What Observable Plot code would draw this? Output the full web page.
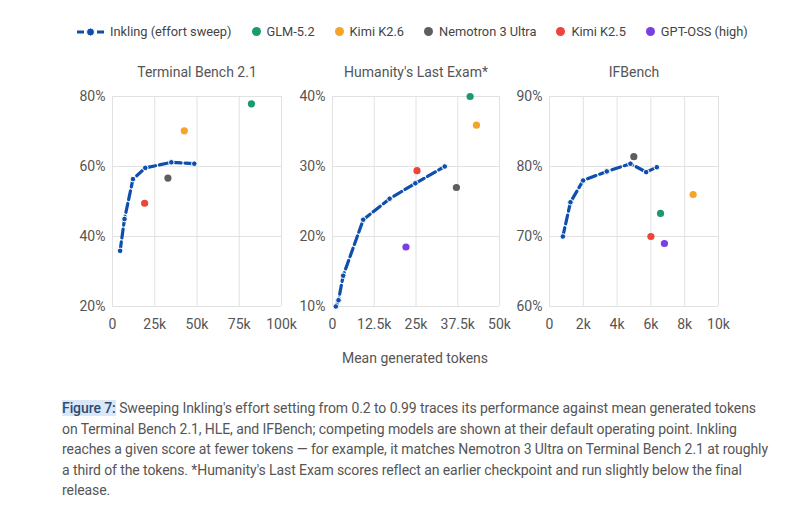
<!DOCTYPE html>
<html><head><meta charset="utf-8">
<script src="https://cdn.jsdelivr.net/npm/d3@7"></script>
<script src="https://cdn.jsdelivr.net/npm/@observablehq/plot@0.6"></script>
<style>
body{margin:0;background:#fff;font-family:Roboto,"Noto Sans",sans-serif;}
#root{position:relative;width:785px;height:513px;overflow:hidden;background:#fff;}
.panel{position:absolute;top:56px;}
#legend{position:absolute;top:24px;left:77px;display:flex;align-items:center;gap:20px;font-size:12.8px;color:#444;white-space:nowrap;}
#legend .item{display:flex;align-items:center;gap:6px;}
#legend .dot{width:9px;height:9px;border-radius:50%;display:inline-block;}
#xlabel{position:absolute;top:350px;left:0;width:830px;text-align:center;font-size:14px;color:#555;}
#caption{position:absolute;top:398px;left:62px;font-size:14px;letter-spacing:-0.08px;line-height:20.5px;color:#555;white-space:nowrap;}
#caption .fig{background:#d9e7f7;color:#2c4a73;font-weight:500;}
</style></head><body><div id="root">
<div id="legend"></div>
<div id="xlabel">Mean generated tokens</div>
<div id="caption">
<div><span class="fig">Figure 7:</span> Sweeping Inkling's effort setting from 0.2 to 0.99 traces its performance against mean generated tokens</div>
<div>on Terminal Bench 2.1, HLE, and IFBench; competing models are shown at their default operating point. Inkling</div>
<div>reaches a given score at fewer tokens — for example, it matches Nemotron 3 Ultra on Terminal Bench 2.1 at roughly</div>
<div>a third of the tokens. *Humanity's Last Exam scores reflect an earlier checkpoint and run slightly below the final</div>
<div>release.</div>
</div>
</div>
<script>
// ---- data ----
const benchmarks = ["Terminal Bench 2.1", "Humanity's Last Exam*", "IFBench"];
const models = ["GLM-5.2", "Kimi K2.6", "Nemotron 3 Ultra", "Kimi K2.5", "GPT-OSS (high)"];
const modelColors = ["#1b9a6e", "#f3a42a", "#5e5e5e", "#ef4438", "#7a3fe4"];
const inklingColor = "#0e4fae";

// Inkling effort sweep (tokens, score %)
const inkTB_tokens = [4500, 7100, 12100, 19400, 34800, 48400];
const inkTB_score = [35.9, 45.0, 56.4, 59.6, 61.2, 60.8];
const inkHLE_tokens = [1000, 1800, 3200, 9200, 17100, 24800, 33600];
const inkHLE_score = [10.0, 10.9, 14.4, 22.4, 25.4, 27.6, 30.0];
const inkIF_tokens = [790, 1240, 1990, 3390, 4790, 5720, 6350];
const inkIF_score = [70.0, 74.9, 78.0, 79.3, 80.4, 79.2, 79.9];

// Competitors (order as models; null = not shown)
const compTB_tokens = [82200, 42500, 32800, 19000, null];
const compTB_score = [77.9, 70.2, 56.7, 49.5, null];
const compHLE_tokens = [41200, 43100, 37100, 25300, 22000];
const compHLE_score = [40.0, 35.9, 27.0, 29.4, 18.5];
const compIF_tokens = [6570, 8500, 4990, 6000, 6800];
const compIF_score = [73.3, 76.0, 81.4, 70.0, 69.0];

// axes
const xTicksTB = [0, 25000, 50000, 75000, 100000];
const xTicksHLE = [0, 12500, 25000, 37500, 50000];
const xTicksIF = [0, 2000, 4000, 6000, 8000, 10000];
const yTicksTB = [20, 40, 60, 80];
const yTicksHLE = [10, 20, 30, 40];
const yTicksIF = [60, 70, 80, 90];

// ---- drawing ----
const FONT = "Roboto, 'Noto Sans', sans-serif";
const fmtK = d => d === 0 ? "0" : (d / 1000) + "k";
const fmtPct = d => d + "%";

function panel(title, inkX, inkY, compX, compY, xTicks, yTicks, left, plotW) {
  const ink = inkX.map((x, i) => ({x, y: inkY[i]}));
  const comp = models.map((m, i) => ({model: m, x: compX[i], y: compY[i], c: modelColors[i]})).filter(d => d.x != null);
  const xDom = [xTicks[0], xTicks[xTicks.length - 1]];
  const yDom = [yTicks[0], yTicks[yTicks.length - 1]];
  const p = Plot.plot({
    width: 50 + plotW + 20, height: 280,
    marginLeft: 50, marginRight: 20, marginTop: 40, marginBottom: 30,
    style: {fontFamily: FONT, fontSize: "14px", color: "#555", background: "transparent", overflow: "visible"},
    x: {domain: xDom, ticks: xTicks, tickFormat: fmtK, tickSize: 0, tickPadding: 13, label: null},
    y: {domain: yDom, ticks: yTicks, tickFormat: fmtPct, tickSize: 0, tickPadding: 7, label: null},
    color: {type: "identity"},
    marks: [
      Plot.gridX(xTicks, {stroke: "#e2e2e2", strokeOpacity: 1}),
      Plot.gridY(yTicks, {stroke: "#e2e2e2", strokeOpacity: 1}),
      Plot.line(ink, {x: "x", y: "y", stroke: inklingColor, strokeWidth: 3.2, strokeDasharray: "9,4"}),
      Plot.dot(ink, {x: "x", y: "y", r: 2.8, fill: inklingColor, stroke: "white", strokeWidth: 1}),
      Plot.dot(comp, {x: "x", y: "y", r: 3.6, fill: "c"}),
      Plot.text([title], {frameAnchor: "top", lineAnchor: "middle", dy: -24, fontSize: 14, fill: "#555"})
    ]
  });
  const wrap = document.createElement("div");
  wrap.className = "panel";
  wrap.style.left = (left - 50) + "px";
  wrap.appendChild(p);
  return wrap;
}

const root = document.getElementById("root");
root.appendChild(panel(benchmarks[0], inkTB_tokens, inkTB_score, compTB_tokens, compTB_score, xTicksTB, yTicksTB, 112, 169));
root.appendChild(panel(benchmarks[1], inkHLE_tokens, inkHLE_score, compHLE_tokens, compHLE_score, xTicksHLE, yTicksHLE, 332, 167));
root.appendChild(panel(benchmarks[2], inkIF_tokens, inkIF_score, compIF_tokens, compIF_score, xTicksIF, yTicksIF, 549, 169));

// legend
const legend = document.getElementById("legend");
const inkItem = document.createElement("div");
inkItem.className = "item";
inkItem.innerHTML = `<svg width="27" height="10"><line x1="0" y1="5" x2="27" y2="5" stroke="${inklingColor}" stroke-width="3.2" stroke-dasharray="7,3"/><circle cx="13.5" cy="5" r="4" fill="${inklingColor}" stroke="white" stroke-width="1"/></svg><span>Inkling (effort sweep)</span>`;
legend.appendChild(inkItem);
models.forEach((m, i) => {
  const it = document.createElement("div");
  it.className = "item";
  it.innerHTML = `<span class="dot" style="background:${modelColors[i]}"></span><span>${m}</span>`;
  legend.appendChild(it);
});
</script>
</body></html>
